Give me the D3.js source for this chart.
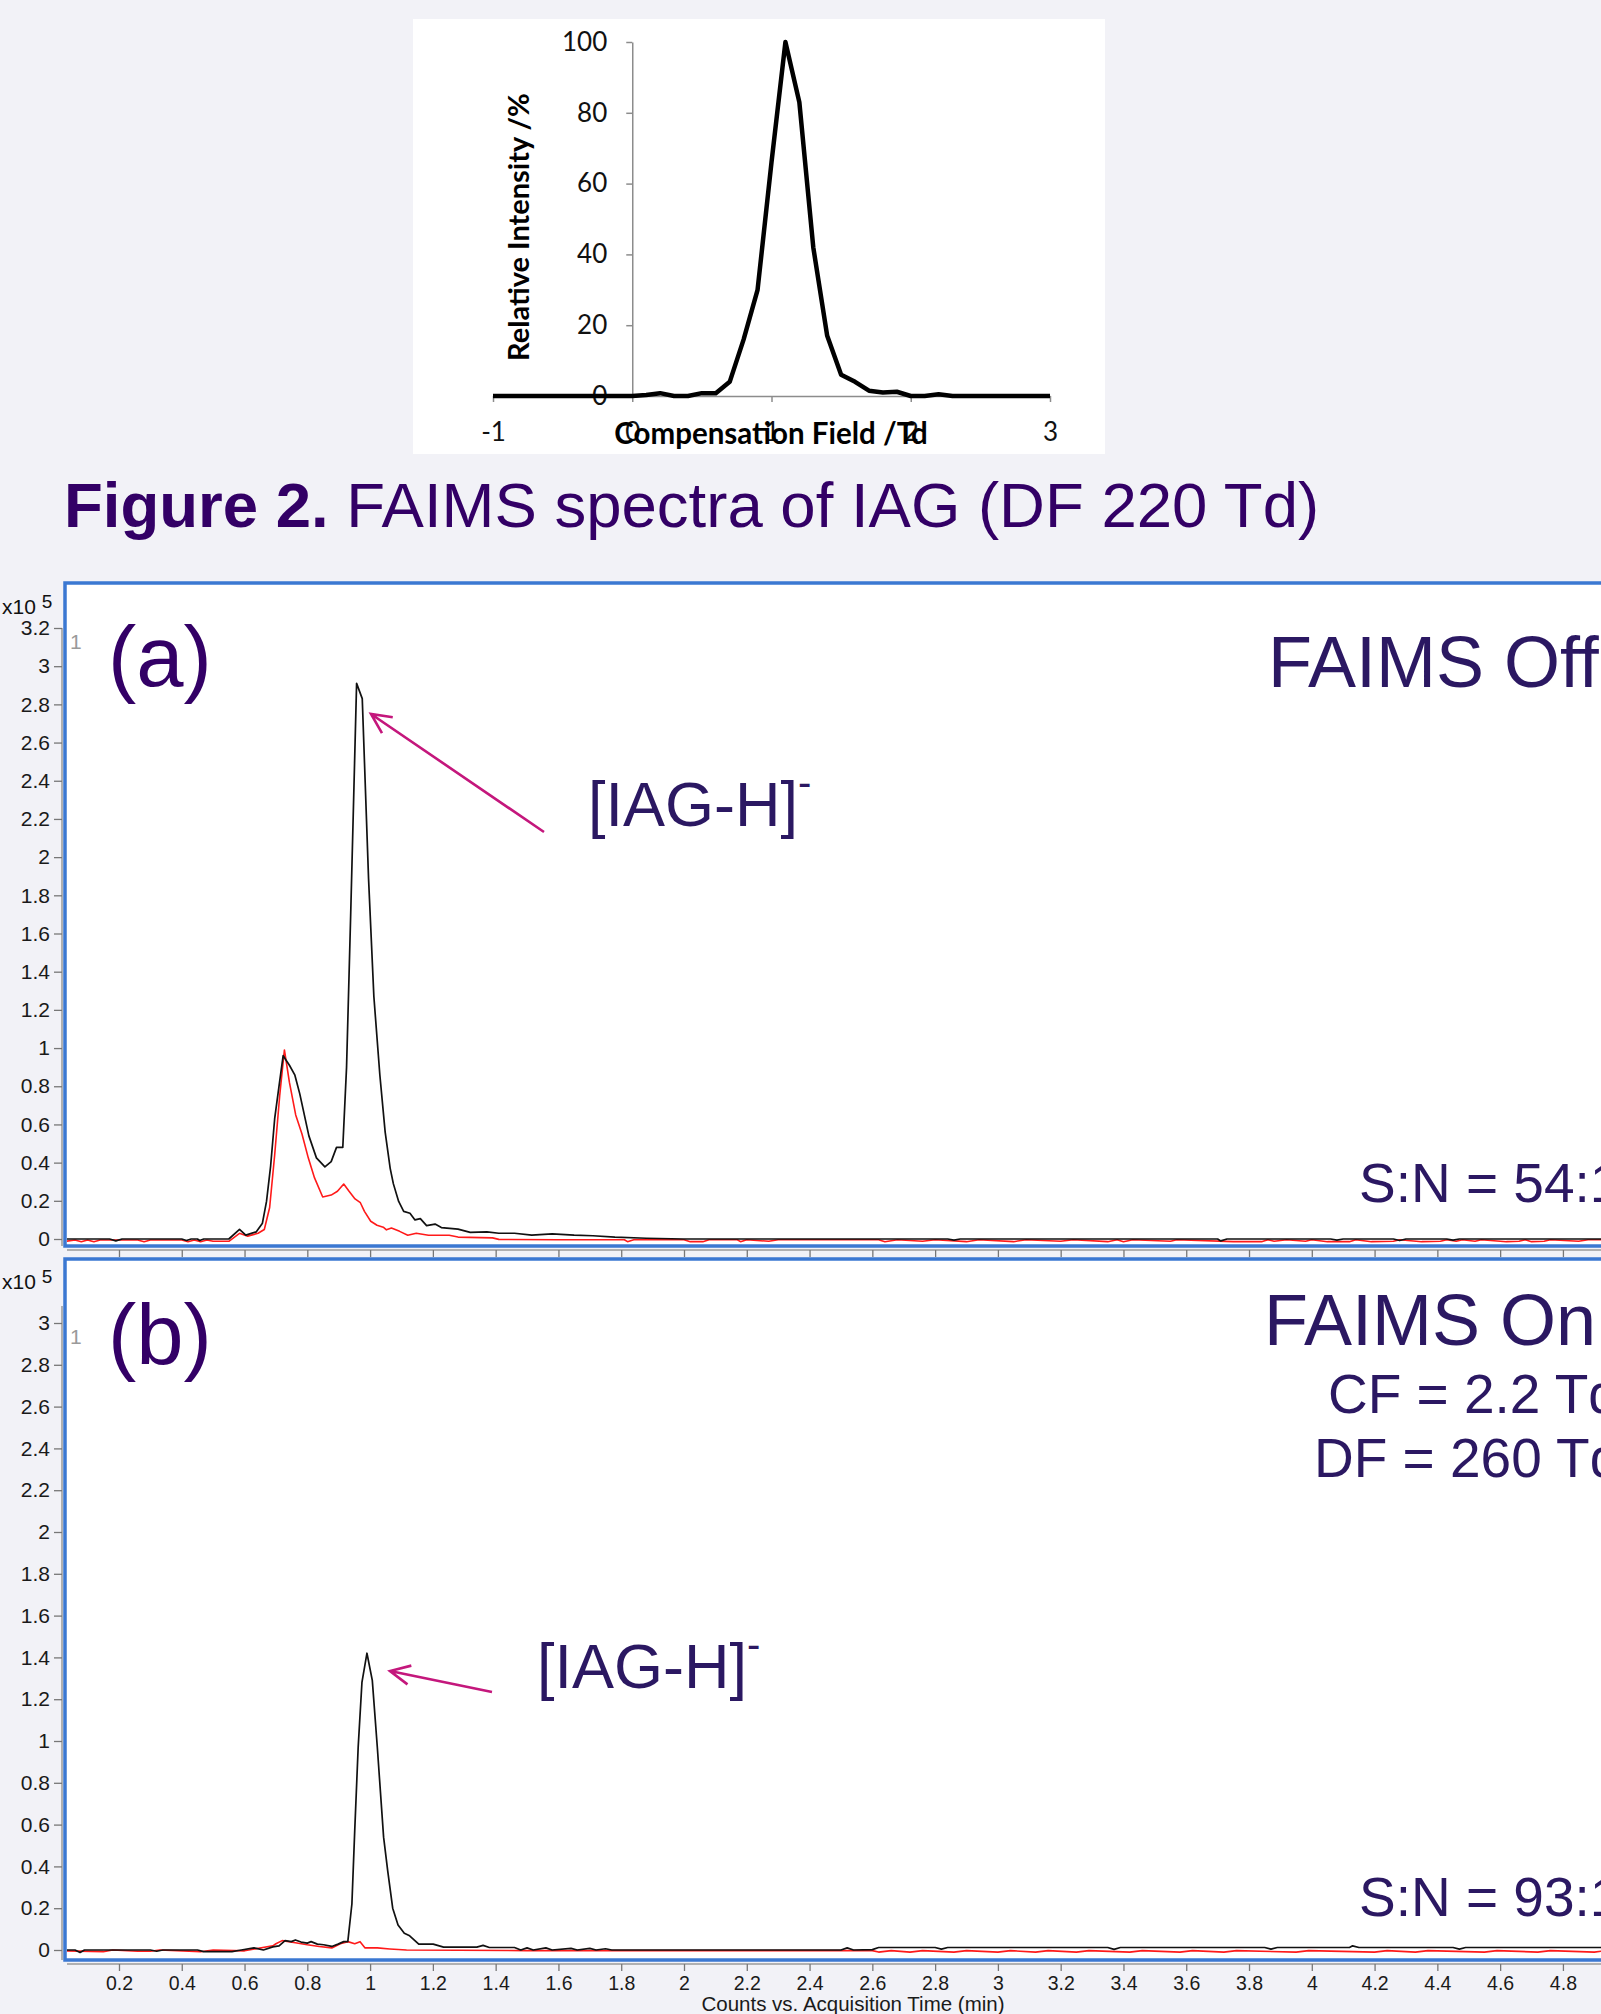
<!DOCTYPE html>
<html>
<head>
<meta charset="utf-8">
<script src="https://cdn.jsdelivr.net/npm/d3@7"></script>
<style>
  body { margin: 0; background: #f2f2f7; }
  svg { display: block; }
  text { font-family: "Liberation Sans", Arial, sans-serif; }
  .inset text { font-family: Lato, "Open Sans", sans-serif; }
</style>
</head>
<body>
<svg id="chart" width="1601" height="2014"></svg>
<script>
// --- inset: FAIMS CF scan ---
const cfValues = [-1, -0.9, -0.8, -0.7, -0.6, -0.5, -0.4, -0.3, -0.2, -0.1, 0, 0.1, 0.2, 0.3, 0.4, 0.5, 0.6, 0.7, 0.8, 0.9, 1.0,
  1.1, 1.2, 1.3, 1.4, 1.5, 1.6, 1.7, 1.8, 1.9, 2.0, 2.1, 2.2, 2.3, 2.4, 2.5, 2.6, 2.7, 2.8, 2.9, 3.0];
const relIntensity = [0, 0, 0, 0, 0, 0, 0, 0, 0, 0, 0, 0.3, 0.8, 0, 0, 0.8, 0.8, 4, 16, 30, 66,
  100, 83, 42, 17, 6, 4, 1.5, 1, 1.2, 0, 0, 0.5, 0, 0, 0, 0, 0, 0, 0, 0];
const insetXTicks = [-1, 0, 1, 2, 3];
const insetYTicks = [0, 20, 40, 60, 80, 100];

// --- chromatograms, time (min) / counts (x10^5) ---
const timeTicks = [0.2, 0.4, 0.6, 0.8, 1, 1.2, 1.4, 1.6, 1.8, 2, 2.2, 2.4, 2.6, 2.8, 3, 3.2, 3.4, 3.6, 3.8, 4, 4.2, 4.4, 4.6, 4.8];
const countTicksA = [0, 0.2, 0.4, 0.6, 0.8, 1, 1.2, 1.4, 1.6, 1.8, 2, 2.2, 2.4, 2.6, 2.8, 3, 3.2];
const countTicksB = [0, 0.2, 0.4, 0.6, 0.8, 1, 1.2, 1.4, 1.6, 1.8, 2, 2.2, 2.4, 2.6, 2.8, 3];

// (a) FAIMS off
const offBlack = [[0.03,0],[0.17,0],[0.19,-0.01],[0.21,0],[0.4,0],[0.415,-0.008],[0.43,0],[0.45,0],[0.457,-0.008],[0.47,0],[0.55,0],
  [0.584,0.05],[0.604,0.02],[0.637,0.037],[0.657,0.083],[0.67,0.197],[0.683,0.38],[0.696,0.63],[0.709,0.79],[0.723,0.96],
  [0.743,0.91],[0.76,0.86],[0.776,0.76],[0.805,0.54],[0.829,0.425],[0.856,0.378],[0.876,0.405],[0.893,0.48],[0.913,0.48],
  [0.925,0.9],[0.938,1.69],[0.957,2.91],[0.975,2.83],[0.995,1.89],[1.012,1.27],[1.031,0.86],[1.048,0.56],[1.064,0.37],
  [1.074,0.29],[1.091,0.197],[1.107,0.145],[1.127,0.135],[1.143,0.1],[1.16,0.107],[1.18,0.07],[1.207,0.078],[1.227,0.06],
  [1.28,0.052],[1.319,0.035],[1.372,0.037],[1.41,0.03],[1.46,0.03],[1.515,0.02],[1.58,0.027],[1.65,0.02],[1.71,0.017],
  [1.78,0.01],[1.88,0.004],[2.0,0],[2.5,0],[2.84,0],[2.86,-0.006],[2.88,0],[3.4,0],[3.7,0],[3.71,-0.01],[3.73,0],
  [4.06,0],[4.08,-0.006],[4.1,0],[4.26,0],[4.28,-0.008],[4.3,0],[4.43,0],[4.45,-0.006],[4.47,0],[5,0]];
const offRed = [[0.03,-0.012],[0.06,-0.005],[0.08,-0.014],[0.1,-0.005],[0.12,-0.014],[0.14,-0.005],[0.26,-0.005],[0.28,-0.014],
  [0.3,-0.005],[0.4,-0.005],[0.42,-0.014],[0.44,-0.005],[0.46,-0.014],[0.48,-0.005],[0.5,-0.012],[0.55,-0.012],
  [0.584,0.03],[0.61,0.015],[0.643,0.03],[0.663,0.05],[0.68,0.165],[0.696,0.44],[0.712,0.75],[0.727,0.99],[0.743,0.82],
  [0.763,0.65],[0.783,0.55],[0.803,0.425],[0.823,0.32],[0.849,0.22],[0.876,0.23],[0.896,0.25],[0.916,0.288],[0.933,0.25],
  [0.952,0.21],[0.969,0.19],[0.982,0.145],[1.002,0.093],[1.022,0.072],[1.042,0.062],[1.052,0.048],[1.068,0.057],
  [1.094,0.04],[1.12,0.02],[1.147,0.03],[1.186,0.02],[1.252,0.02],[1.28,0.01],[1.39,0.006],[1.41,-0.002],[1.6,-0.004],
  [1.81,-0.004],[1.82,-0.014],[1.84,-0.004],[2.0,-0.004],[2.02,-0.014],[2.06,-0.014],[2.08,-0.004],[2.17,-0.004],
  [2.18,-0.014],[2.2,-0.004],[2.27,-0.012],[2.3,-0.004],[2.62,-0.004],[2.64,-0.014],[2.68,-0.004],[2.76,-0.012],
  [2.8,-0.004],[2.9,-0.014],[2.94,-0.004],[3.05,-0.014],[3.09,-0.004],[3.2,-0.012],[3.24,-0.004],[3.35,-0.014],
  [3.38,-0.004],[3.4,-0.014],[3.43,-0.004],[3.55,-0.012],[3.57,-0.004],[3.75,-0.014],[3.84,-0.014],[3.86,-0.004],
  [3.88,-0.012],[3.92,-0.004],[3.98,-0.012],[4.0,-0.004],[4.05,-0.014],[4.12,-0.014],[4.14,-0.004],[4.19,-0.014],
  [4.26,-0.012],[4.28,-0.004],[4.35,-0.014],[4.41,-0.012],[4.43,-0.004],[4.46,-0.012],[4.48,-0.004],[4.52,-0.012],
  [4.54,-0.004],[4.62,-0.014],[4.66,-0.012],[4.68,-0.004],[4.7,-0.014],[4.74,-0.012],[4.76,-0.004],[4.85,-0.012],
  [4.88,-0.004],[5,-0.004]];

// (b) FAIMS on
const onBlack = [[0.03,0],[0.06,0],[0.076,-0.012],[0.09,0],[0.3,0],[0.32,-0.006],[0.34,0],[0.45,0],[0.47,-0.008],
  [0.56,-0.008],[0.59,0],[0.63,0.01],[0.66,0],[0.69,0.015],[0.71,0.02],[0.729,0.045],[0.749,0.04],[0.762,0.048],
  [0.78,0.038],[0.8,0.033],[0.812,0.04],[0.832,0.028],[0.852,0.025],[0.878,0.017],[0.898,0.028],[0.916,0.04],
  [0.929,0.04],[0.942,0.22],[0.951,0.57],[0.962,0.97],[0.974,1.28],[0.99,1.42],[1.007,1.29],[1.023,0.97],
  [1.043,0.54],[1.056,0.38],[1.072,0.2],[1.089,0.12],[1.109,0.08],[1.126,0.068],[1.155,0.028],[1.201,0.028],
  [1.234,0.014],[1.34,0.014],[1.36,0.022],[1.38,0.012],[1.46,0.012],[1.48,0],[1.5,0.01],[1.52,0],[1.56,0.01],
  [1.58,0],[1.64,0.008],[1.66,0],[1.7,0.008],[1.72,0],[1.75,0.006],[1.77,0],[2.5,0],[2.52,0.01],[2.54,0],
  [2.6,0.002],[2.62,0.012],[2.8,0.012],[2.82,0.004],[2.84,0.012],[3.35,0.012],[3.37,0.003],[3.39,0.012],
  [3.85,0.012],[3.87,0.004],[3.89,0.012],[4.12,0.012],[4.13,0.02],[4.15,0.012],[4.45,0.012],[4.47,0.004],
  [4.49,0.012],[5,0.012]];
const onRed = [[0.03,-0.004],[0.15,-0.008],[0.18,0],[0.26,-0.006],[0.3,-0.006],[0.33,0],[0.46,-0.008],[0.5,0],
  [0.6,-0.004],[0.69,0.02],[0.70,0.03],[0.72,0.045],[0.762,0.035],[0.8,0.025],[0.838,0.017],[0.878,0.01],
  [0.905,0.03],[0.929,0.04],[0.951,0.03],[0.968,0.04],[0.984,0.01],[1.023,0.01],[1.063,0.005],[1.116,0],
  [1.5,-0.003],[2.6,-0.003],[2.62,-0.01],[2.66,-0.003],[2.72,-0.01],[2.76,-0.003],[2.86,-0.01],[2.9,-0.003],
  [3.0,-0.01],[3.04,-0.003],[3.12,-0.01],[3.16,-0.003],[3.25,-0.01],[3.29,-0.003],[3.42,-0.01],[3.46,-0.003],
  [3.58,-0.01],[3.62,-0.003],[3.72,-0.01],[3.76,-0.003],[3.95,-0.01],[3.99,-0.003],[4.2,-0.01],[4.24,-0.003],
  [4.33,-0.01],[4.37,-0.003],[4.55,-0.01],[4.59,-0.003],[4.72,-0.01],[4.76,-0.003],[4.9,-0.01],[4.94,-0.003],[5,-0.003]];

const svg = d3.select("#chart");
const fmt = d3.format("~g");
const purple = "#330066";
const navy = "#2b1862";
const magenta = "#c4177c";
const blue = "#3b78d2";

// ---------- inset ----------
const inset = svg.append("g").attr("class", "inset");
inset.append("rect").attr("x", 413).attr("y", 19).attr("width", 692).attr("height", 435).attr("fill", "#fff");

const xIn = d3.scaleLinear().domain([-1, 3]).range([493, 1050]);
const yIn = d3.scaleLinear().domain([0, 100]).range([396, 42]);

const yAxIn = inset.append("g").attr("transform", `translate(${xIn(0)},0)`)
  .call(d3.axisLeft(yIn).tickValues(insetYTicks).tickFormat(d => String(d)).tickSize(6).tickSizeOuter(0).tickPadding(19));
const xAxIn = inset.append("g").attr("transform", `translate(0,${yIn(0)})`)
  .call(d3.axisBottom(xIn).tickValues(insetXTicks).tickFormat(d => String(d)).tickSize(6).tickSizeOuter(0).tickPadding(21));
[yAxIn, xAxIn].forEach(g => {
  g.selectAll("path,line").attr("stroke", "#8c8c8c").attr("stroke-width", 1.5);
  g.selectAll("text").attr("font-size", 26).attr("fill", "#111");
});

inset.append("text")
  .attr("transform", `translate(529,${(yIn(0) + yIn(100)) / 2 + 8}) rotate(-90)`)
  .attr("text-anchor", "middle").attr("font-weight", "bold").attr("font-size", 29)
  .text("Relative Intensity /%");
inset.append("text")
  .attr("x", 771).attr("y", 444).attr("text-anchor", "middle")
  .attr("font-weight", "bold").attr("font-size", 29.5)
  .text("Compensation Field /Td");

inset.append("path")
  .datum(cfValues.map((c, i) => [c, relIntensity[i]]))
  .attr("fill", "none").attr("stroke", "#000").attr("stroke-width", 4.5)
  .attr("stroke-linejoin", "round")
  .attr("d", d3.line().x(d => xIn(d[0])).y(d => yIn(d[1])));

// ---------- figure title ----------
const title = svg.append("text").attr("x", 64).attr("y", 527).attr("font-size", 63.5).attr("fill", purple);
title.append("tspan").attr("font-weight", "bold").text("Figure 2.");
title.append("tspan").text(" FAIMS spectra of IAG (DF 220 Td)");

// ---------- chromatogram panels ----------
const x = d3.scaleLinear().domain([0, 5]).range([56.2, 56.2 + 313.9 * 5]);

function panel(opt) {
  const g = svg.append("g");
  const y = d3.scaleLinear().domain([0, opt.yMax]).range([opt.y0, opt.yTop]);

  g.append("rect").attr("x", 65).attr("y", opt.boxTop).attr("width", 1700)
    .attr("height", opt.boxBottom - opt.boxTop).attr("fill", "#fff")
    .attr("stroke", blue).attr("stroke-width", 3.5);

  // y axis
  g.append("line").attr("x1", 62).attr("x2", 62).attr("y1", opt.axisTop).attr("y2", opt.boxBottom)
    .attr("stroke", "#9a9a9a").attr("stroke-width", 1.5);
  const yAx = g.append("g").attr("transform", "translate(62,0)")
    .call(d3.axisLeft(y).tickValues(opt.ticks).tickFormat(fmt).tickSize(8).tickPadding(4));
  yAx.select(".domain").remove();
  yAx.selectAll("line").attr("stroke", "#777").attr("stroke-width", 1.3);
  yAx.selectAll("text").attr("font-size", 21).attr("fill", "#1a1a1a");

  // x axis under the box
  g.append("line").attr("x1", 67).attr("x2", 1601).attr("y1", opt.xAxisY).attr("y2", opt.xAxisY)
    .attr("stroke", "#9a9a9a").attr("stroke-width", 1.5);
  const xAx = g.append("g").attr("transform", `translate(0,${opt.xAxisY})`)
    .call(d3.axisBottom(x).tickValues(timeTicks).tickFormat(opt.xLabels ? fmt : "").tickSize(7).tickPadding(5));
  xAx.select(".domain").remove();
  xAx.selectAll("line").attr("stroke", "#777").attr("stroke-width", 1.3);
  xAx.selectAll("text").attr("font-size", 19.5).attr("fill", "#1a1a1a");

  // exponent + trace number
  const ex = g.append("text").attr("x", 2).attr("y", opt.expY).attr("font-size", 21).attr("fill", "#111");
  ex.append("tspan").text("x10");
  ex.append("tspan").attr("dx", 6).attr("dy", -6).attr("font-size", 19).text("5");
  g.append("text").attr("x", 70).attr("y", opt.yTop + 21).attr("font-size", 21).attr("fill", "#9a9a9a").text("1");

  // traces
  const clipId = "clip" + opt.name;
  svg.append("clipPath").attr("id", clipId).append("rect")
    .attr("x", 67).attr("y", opt.boxTop + 2).attr("width", 1600).attr("height", opt.boxBottom - opt.boxTop - 4);
  const line = d3.line().x(d => x(d[0])).y(d => y(d[1]));
  const traces = g.append("g").attr("clip-path", `url(#${clipId})`);
  traces.append("path").datum(opt.red).attr("fill", "none").attr("stroke", "#ff1a1a")
    .attr("stroke-width", 1.6).attr("stroke-linejoin", "round").attr("d", line);
  traces.append("path").datum(opt.black).attr("fill", "none").attr("stroke", "#111")
    .attr("stroke-width", 1.7).attr("stroke-linejoin", "round").attr("d", line);

  // labels
  g.append("text").attr("x", 108).attr("y", opt.labelY).attr("font-size", 85).attr("fill", purple).text(opt.label);
  opt.notes.forEach(n => {
    g.append("text").attr("x", n.x).attr("y", n.y).attr("font-size", n.size).attr("fill", navy).text(n.text);
  });

  // ion label and arrow
  const ion = g.append("text").attr("x", opt.ion.x).attr("y", opt.ion.y).attr("font-size", 63).attr("fill", navy);
  ion.append("tspan").text("[IAG-H]");
  ion.append("tspan").attr("dy", -30).attr("font-size", 40).text("-");
  const a = opt.arrow;
  const ang = Math.atan2(a.y2 - a.y1, a.x2 - a.x1);
  const head = [ang + Math.PI - 0.45, ang + Math.PI + 0.45].map(t => [a.x2 + 22 * Math.cos(t), a.y2 + 22 * Math.sin(t)]);
  g.append("path")
    .attr("d", `M${a.x1},${a.y1}L${a.x2},${a.y2}M${head[0]}L${a.x2},${a.y2}L${head[1]}`)
    .attr("fill", "none").attr("stroke", magenta).attr("stroke-width", 2.6);
}

panel({
  name: "A", yMax: 3.2, y0: 1239, yTop: 628, boxTop: 583, boxBottom: 1246, axisTop: 628, xAxisY: 1250,
  ticks: countTicksA, xLabels: false, expY: 614, red: offRed, black: offBlack,
  label: "(a)", labelY: 686,
  notes: [{ text: "FAIMS Off", x: 1268, y: 687, size: 72 }, { text: "S:N = 54:1", x: 1359, y: 1202, size: 55 }],
  ion: { x: 588, y: 826 }, arrow: { x1: 544, y1: 832, x2: 371, y2: 714 }
});

panel({
  name: "B", yMax: 3, y0: 1950, yTop: 1323, boxTop: 1259, boxBottom: 1960, axisTop: 1306, xAxisY: 1964,
  ticks: countTicksB, xLabels: true, expY: 1289, red: onRed, black: onBlack,
  label: "(b)", labelY: 1364,
  notes: [{ text: "FAIMS On", x: 1264, y: 1345, size: 72 }, { text: "CF = 2.2 Td", x: 1328, y: 1413, size: 55 },
          { text: "DF = 260 Td", x: 1314, y: 1477, size: 55 }, { text: "S:N = 93:1", x: 1359, y: 1916, size: 55 }],
  ion: { x: 537, y: 1688 }, arrow: { x1: 492, y1: 1692, x2: 390, y2: 1671 }
});

svg.append("text").attr("x", 853).attr("y", 2011).attr("text-anchor", "middle").attr("font-size", 20.5)
  .attr("fill", "#1a1a1a").text("Counts vs. Acquisition Time (min)");
</script>
</body>
</html>
